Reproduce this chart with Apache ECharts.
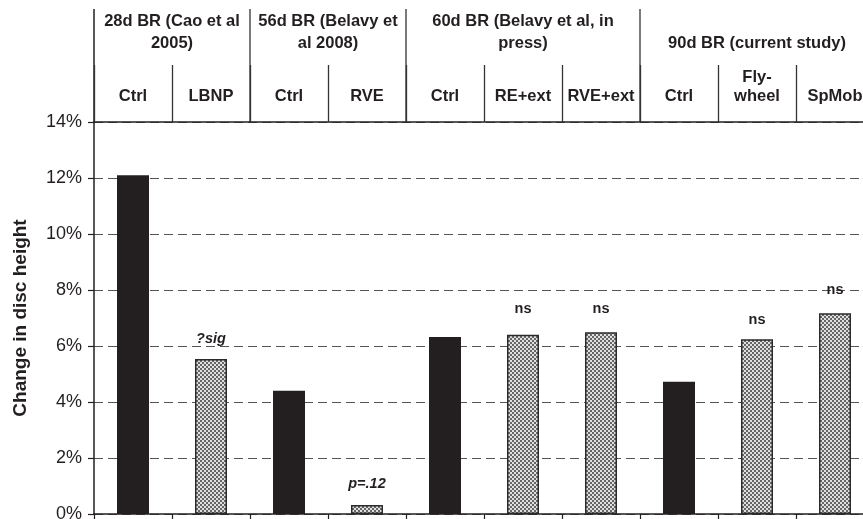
<!DOCTYPE html>
<html>
<head>
<meta charset="utf-8">
<script src="https://cdn.jsdelivr.net/npm/echarts@6/dist/echarts.min.js"></script>
<style>
  html, body { margin: 0; padding: 0; background: #fff; }
  #chart { width: 863px; height: 519px; }
</style>
</head>
<body>
<div id="chart"></div>
<script>
// Bed-rest studies: change in lumbar disc height per group
const subLabels = ['Ctrl', 'LBNP', 'Ctrl', 'RVE', 'Ctrl', 'RE+ext', 'RVE+ext', 'Ctrl', 'Fly-\nwheel', 'SpMob'];
const discChange = [12.1, 5.54, 4.4, 0.32, 6.32, 6.4, 6.49, 4.72, 6.24, 7.17];
const notes = ['', '?sig', '', 'p=.12', '', 'ns', 'ns', '', 'ns', 'ns'];
const noteGap = [0, 12, 0, 14, 0, 18, 16, 0, 12, 16];
const groupLabels = ['28d BR (Cao et al\n2005)', '56d BR (Belavy et\nal 2008)', '60d BR (Belavy et al, in\npress)', '90d BR (current study)'];
const groupSpans = [2, 2, 3, 3];
const yMin = 0, yMax = 14, yStep = 2;

const INK = '#231f20';
const FONT = '"Liberation Sans", Arial, sans-serif';

// fine checkerboard fill for the intervention bars
function checkerPattern() {
  const c = document.createElement('canvas');
  c.width = 4; c.height = 4;
  const g = c.getContext('2d');
  g.fillStyle = '#e0e0e0'; g.fillRect(0, 0, 4, 4);
  g.fillStyle = '#666666'; g.fillRect(0, 0, 2, 2); g.fillRect(2, 2, 2, 2);
  return c;
}
const pattern = { image: checkerPattern(), repeat: 'repeat' };

const chart = echarts.init(document.getElementById('chart'), null, { renderer: 'canvas' });

const barData = discChange.map((v, i) => {
  const isCtrl = subLabels[i] === 'Ctrl';
  return {
    value: v,
    itemStyle: isCtrl
      ? { color: INK, borderColor: INK, borderWidth: 0 }
      : { color: pattern, borderColor: '#2a2a2a', borderWidth: 1.5 },
    label: {
      show: notes[i] !== '',
      formatter: notes[i],
      position: 'top',
      distance: noteGap[i],
      fontStyle: notes[i] === 'ns' ? 'normal' : 'italic'
    }
  };
});

chart.setOption({
  animation: false,
  backgroundColor: '#fff',
  textStyle: { fontFamily: FONT, color: INK },
  grid: { left: 94, top: 122, width: 780, bottom: 5, containLabel: false, outerBoundsMode: 'none' },
  xAxis: [
    {
      type: 'category',
      data: subLabels,
      position: 'bottom',
      boundaryGap: true,
      axisLine: { show: true, lineStyle: { color: INK, width: 1.5 } },
      axisTick: { show: true, length: 5, interval: 0, lineStyle: { color: INK, width: 1.2 } },
      axisLabel: { show: false },
      splitLine: { show: false }
    },
    {
      type: 'category',
      data: subLabels,
      position: 'top',
      boundaryGap: true,
      axisLine: { show: true, onZero: false, lineStyle: { color: INK, width: 1.5 } },
      axisTick: { show: true, length: 57, interval: 0, lineStyle: { color: '#333', width: 1.3 } },
      axisLabel: {
        show: true, interval: 0, margin: 16.5,
        fontFamily: FONT, fontSize: 16.5, fontWeight: 'bold', color: INK,
        lineHeight: 19, verticalAlign: 'bottom', align: 'center'
      },
      splitLine: { show: false }
    }
  ],
  yAxis: {
    type: 'value',
    min: yMin, max: yMax, interval: yStep,
    name: 'Change in disc height',
    nameLocation: 'middle',
    nameRotate: 90,
    nameGap: 64,
    nameTextStyle: { fontFamily: FONT, fontSize: 19, fontWeight: 'bold', color: INK },
    axisLine: { show: true, lineStyle: { color: INK, width: 1.5 } },
    axisTick: { show: true, length: 6, lineStyle: { color: INK, width: 1.2 } },
    axisLabel: { formatter: '{value}%', fontFamily: FONT, fontSize: 18, color: INK, margin: 12 },
    splitLine: { show: true, lineStyle: { color: '#555', type: [9, 5], width: 1 } }
  },
  series: [{
    type: 'bar',
    data: barData,
    barWidth: 32,
    label: { fontFamily: FONT, fontSize: 14.5, fontWeight: 'bold', color: INK },
    z: 3
  }]
});

// study header: group dividers and titles above the plot
const c0 = chart.convertToPixel({ xAxisIndex: 0 }, 0);
const c1 = chart.convertToPixel({ xAxisIndex: 0 }, 1);
const band = c1 - c0;
const left = c0 - band / 2;
const topY = chart.convertToPixel({ yAxisIndex: 0 }, yMax);

const graphics = [];
let start = 0;
graphics.push({
  type: 'line', silent: true,
  shape: { x1: left, y1: 9, x2: left, y2: topY },
  style: { stroke: INK, lineWidth: 1.5 }
});
groupSpans.forEach((span, g) => {
  const end = start + span;
  const xEnd = left + end * band;
  graphics.push({
    type: 'line', silent: true,
    shape: { x1: xEnd, y1: 9, x2: xEnd, y2: topY },
    style: { stroke: '#333', lineWidth: 1.3 }
  });
  graphics.push({
    type: 'text', silent: true,
    x: left + (start + span / 2) * band, y: 54,
    style: {
      text: groupLabels[g],
      fontFamily: FONT, fontSize: 16.5, fontWeight: 'bold', fill: INK,
      align: 'center', verticalAlign: 'bottom', lineHeight: 22
    }
  });
  start = end;
});
chart.setOption({ graphic: graphics });
</script>
</body>
</html>
